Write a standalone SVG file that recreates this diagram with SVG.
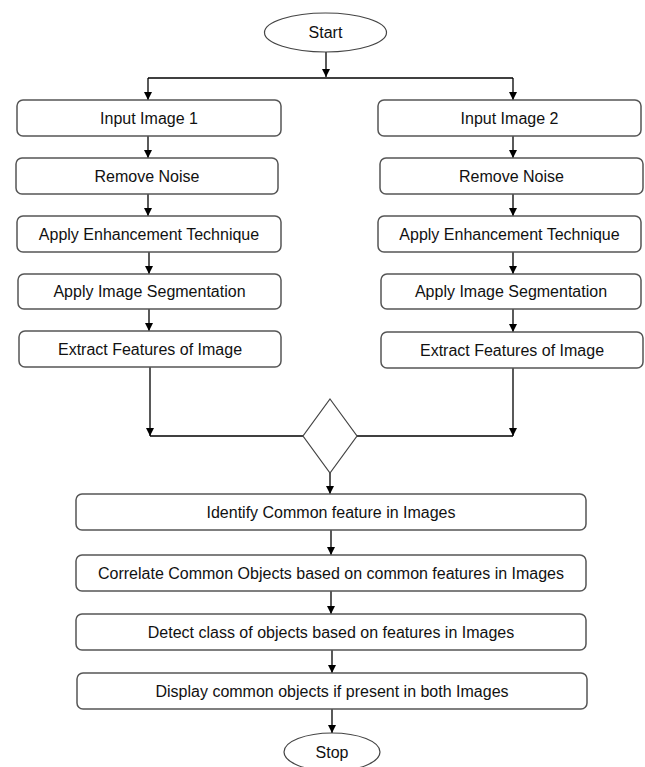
<svg xmlns="http://www.w3.org/2000/svg" width="645" height="767" viewBox="0 0 645 767">
<defs>
<marker id="ah" viewBox="0 0 10 10" refX="10" refY="5" markerWidth="8" markerHeight="8" markerUnits="userSpaceOnUse" orient="auto">
<path d="M0,0 L10,5 L0,10 Z" fill="#000"/>
</marker>
<style>
.box{fill:#fff;stroke:#555;stroke-width:1.5}
.term{fill:#fff;stroke:#444;stroke-width:1.2}
.t{font-family:"Liberation Sans",Arial,sans-serif;font-size:16px;fill:#111;text-anchor:middle}
.c{fill:none;stroke:#000;stroke-width:1.3}
.a{marker-end:url(#ah)}
</style>
</defs>
<rect width="645" height="767" fill="#fff"/>
<g id="connectors">
<path class="c a" d="M326,52 V77"/>
<path class="c" d="M148,78 H513"/>
<path class="c a" d="M148,78 V100"/>
<path class="c a" d="M513,78 V100"/>
<path class="c a" d="M148,136 V158"/>
<path class="c a" d="M148,194 V216"/>
<path class="c a" d="M149,252 V274"/>
<path class="c a" d="M149,309 V331"/>
<path class="c a" d="M513,136 V158"/>
<path class="c a" d="M513,194 V216"/>
<path class="c a" d="M513,252 V274"/>
<path class="c a" d="M513,309 V332"/>
<path class="c a" d="M150,367 V436"/>
<path class="c a" d="M513,368 V436"/>
<path class="c" d="M150,436 H303"/>
<path class="c" d="M357,436 H513"/>
<path class="c a" d="M330,473 V494"/>
<path class="c a" d="M331,530 V555"/>
<path class="c a" d="M331,591 V614"/>
<path class="c a" d="M332,650 V673"/>
<path class="c a" d="M332,709 V733"/>
</g>
<g id="start"><ellipse class="term" cx="325.5" cy="32.5" rx="61" ry="19.5"/><text class="t" x="325.5" y="38">Start</text></g>
<g id="input1"><rect class="box" x="17" y="100" width="264" height="36" rx="6"/><text class="t" x="149" y="123.5">Input Image 1</text></g>
<g id="input2"><rect class="box" x="378" y="100" width="263" height="36" rx="6"/><text class="t" x="509.5" y="123.5">Input Image 2</text></g>
<g id="noise1"><rect class="box" x="16" y="158" width="262" height="36" rx="6"/><text class="t" x="147" y="181.5">Remove Noise</text></g>
<g id="noise2"><rect class="box" x="380" y="158" width="263" height="36" rx="6"/><text class="t" x="511.5" y="181.5">Remove Noise</text></g>
<g id="enhance1"><rect class="box" x="17" y="216" width="264" height="36" rx="6"/><text class="t" x="149" y="239.5">Apply Enhancement Technique</text></g>
<g id="enhance2"><rect class="box" x="378" y="216" width="263" height="36" rx="6"/><text class="t" x="509.5" y="239.5">Apply Enhancement Technique</text></g>
<g id="segment1"><rect class="box" x="18" y="274" width="263" height="35" rx="6"/><text class="t" x="149.5" y="297">Apply Image Segmentation</text></g>
<g id="segment2"><rect class="box" x="381" y="274" width="260" height="35" rx="6"/><text class="t" x="511" y="297">Apply Image Segmentation</text></g>
<g id="extract1"><rect class="box" x="19" y="331" width="262" height="36" rx="6"/><text class="t" x="150" y="354.5">Extract Features of Image</text></g>
<g id="extract2"><rect class="box" x="381" y="332" width="262" height="36" rx="6"/><text class="t" x="512" y="355.5">Extract Features of Image</text></g>
<g id="decision"><path d="M330,399 L357,436 L330,473 L303,436 Z" fill="none" stroke="#444" stroke-width="1.2"/></g>
<g id="identify"><rect class="box" x="76" y="494" width="510" height="36" rx="6"/><text class="t" x="331" y="517.5">Identify Common feature in Images</text></g>
<g id="correlate"><rect class="box" x="76" y="555" width="510" height="36" rx="6"/><text class="t" x="331" y="578.5">Correlate Common Objects based on common features in Images</text></g>
<g id="detect"><rect class="box" x="76" y="614" width="510" height="36" rx="6"/><text class="t" x="331" y="637.5">Detect class of objects based on features in Images</text></g>
<g id="display"><rect class="box" x="77" y="673" width="510" height="36" rx="6"/><text class="t" x="332" y="696.5">Display common objects if present in both Images</text></g>
<g id="stop"><ellipse class="term" cx="332" cy="752" rx="48" ry="19"/><text class="t" x="332" y="757.5">Stop</text></g>
</svg>
